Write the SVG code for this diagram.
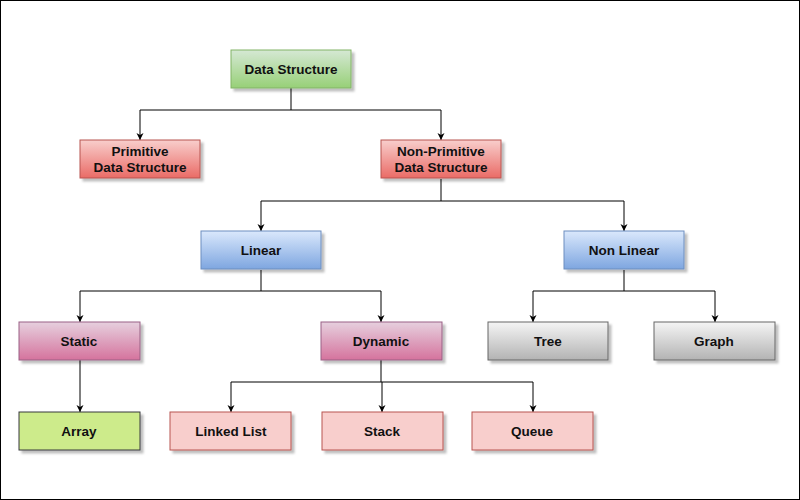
<svg xmlns="http://www.w3.org/2000/svg" width="800" height="500" viewBox="0 0 800 500">
<defs>
<linearGradient id="gGreen" x1="0" y1="0" x2="0" y2="1"><stop offset="0" stop-color="#d5e8d4"/><stop offset="1" stop-color="#97d077"/></linearGradient>
<linearGradient id="gRed" x1="0" y1="0" x2="0" y2="1"><stop offset="0" stop-color="#f8cecc"/><stop offset="1" stop-color="#ea6b66"/></linearGradient>
<linearGradient id="gBlue" x1="0" y1="0" x2="0" y2="1"><stop offset="0" stop-color="#dae8fc"/><stop offset="1" stop-color="#7ea6e0"/></linearGradient>
<linearGradient id="gPink" x1="0" y1="0" x2="0" y2="1"><stop offset="0" stop-color="#e6d0de"/><stop offset="1" stop-color="#d5739d"/></linearGradient>
<linearGradient id="gGrey" x1="0" y1="0" x2="0" y2="1"><stop offset="0" stop-color="#f5f5f5"/><stop offset="1" stop-color="#b3b3b3"/></linearGradient>
<filter id="sh" x="-10%" y="-20%" width="130%" height="160%"><feDropShadow dx="3" dy="3" stdDeviation="1" flood-color="#000" flood-opacity="0.25"/></filter>
<marker id="arr" markerWidth="8" markerHeight="8" refX="7" refY="4" orient="auto" markerUnits="userSpaceOnUse"><path d="M0,0.5 L7,4 L0,7.5 L2,4 Z" fill="#000"/></marker>
</defs>
<style>
.n{filter:url(#sh);stroke-width:1}
.t{font-family:"Liberation Sans",Arial,sans-serif;font-size:13.5px;font-weight:bold;fill:#111;text-anchor:middle;dominant-baseline:central}
.c{fill:none;stroke:#000;stroke-width:1}
.ca{fill:none;stroke:#000;stroke-width:1;marker-end:url(#arr)}
</style>
<rect x="0.5" y="0.5" width="799" height="499" fill="#fff" stroke="#000" stroke-width="1"/>
<g id="connectors">
<path class="c" d="M291,88 V110 M140,110 H441"/>
<path class="ca" d="M140,110 V140"/>
<path class="ca" d="M441,110 V140"/>
<path class="c" d="M441,179 V201 M261,201 H624"/>
<path class="ca" d="M261,201 V231"/>
<path class="ca" d="M624,201 V231"/>
<path class="c" d="M261,270 V291 M80,291 H381"/>
<path class="ca" d="M80,291 V322"/>
<path class="ca" d="M381,291 V322"/>
<path class="c" d="M624,270 V291 M533,291 H715"/>
<path class="ca" d="M533,291 V322"/>
<path class="ca" d="M715,291 V322"/>
<path class="ca" d="M80,360 V412"/>
<path class="c" d="M381,360 V382 M231,382 H533"/>
<path class="ca" d="M231,382 V412"/>
<path class="ca" d="M382,382 V412"/>
<path class="ca" d="M533,382 V412"/>
</g>
<g id="data-structure"><rect class="n" x="231" y="50" width="120" height="38" fill="url(#gGreen)" stroke="#82b366"/><text class="t" x="291" y="69.5">Data Structure</text></g>
<g id="primitive"><rect class="n" x="80" y="140" width="120" height="38" fill="url(#gRed)" stroke="#b85450"/><text class="t" x="140" y="151.5">Primitive</text><text class="t" x="140" y="167.5">Data Structure</text></g>
<g id="non-primitive"><rect class="n" x="381" y="140" width="120" height="38" fill="url(#gRed)" stroke="#b85450"/><text class="t" x="441" y="151.5">Non-Primitive</text><text class="t" x="441" y="167.5">Data Structure</text></g>
<g id="linear"><rect class="n" x="201" y="231" width="120" height="38" fill="url(#gBlue)" stroke="#6c8ebf"/><text class="t" x="261" y="250.5">Linear</text></g>
<g id="non-linear"><rect class="n" x="564" y="231" width="120" height="38" fill="url(#gBlue)" stroke="#6c8ebf"/><text class="t" x="624" y="250.5">Non Linear</text></g>
<g id="static"><rect class="n" x="19" y="322" width="121" height="38" fill="url(#gPink)" stroke="#996185"/><text class="t" x="79" y="341.5">Static</text></g>
<g id="dynamic"><rect class="n" x="321" y="322" width="121" height="38" fill="url(#gPink)" stroke="#996185"/><text class="t" x="381" y="341.5">Dynamic</text></g>
<g id="tree"><rect class="n" x="488" y="322" width="120" height="38" fill="url(#gGrey)" stroke="#666666"/><text class="t" x="548" y="341.5">Tree</text></g>
<g id="graph"><rect class="n" x="654" y="322" width="121" height="38" fill="url(#gGrey)" stroke="#666666"/><text class="t" x="714" y="341.5">Graph</text></g>
<g id="array"><rect class="n" x="19" y="412" width="121" height="38" fill="#cdeb8b" stroke="#36393d"/><text class="t" x="79" y="431.5">Array</text></g>
<g id="linked-list"><rect class="n" x="170" y="412" width="121" height="38" fill="#f8cecc" stroke="#b85450"/><text class="t" x="231" y="431.5">Linked List</text></g>
<g id="stack"><rect class="n" x="322" y="412" width="121" height="38" fill="#f8cecc" stroke="#b85450"/><text class="t" x="382" y="431.5">Stack</text></g>
<g id="queue"><rect class="n" x="472" y="412" width="121" height="38" fill="#f8cecc" stroke="#b85450"/><text class="t" x="532" y="431.5">Queue</text></g>
</svg>
